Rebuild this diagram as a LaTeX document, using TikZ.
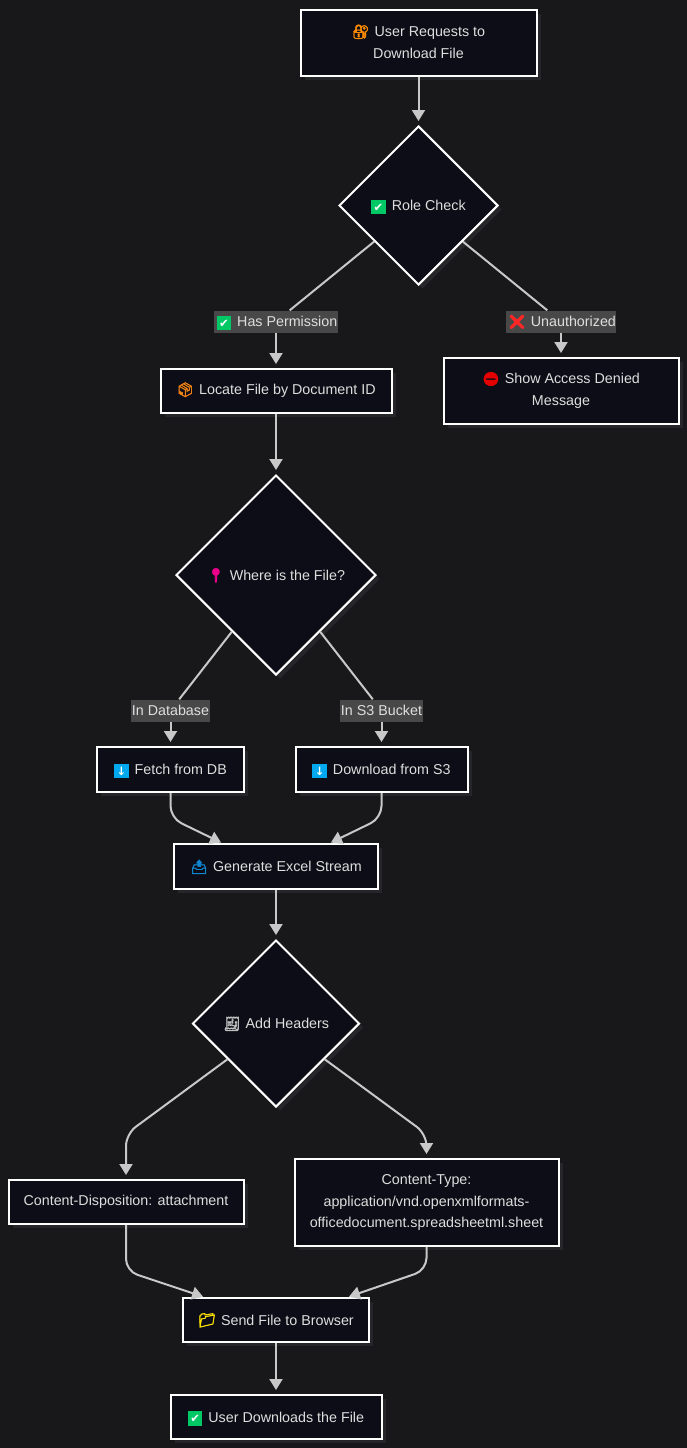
\documentclass[tikz,border=0pt]{standalone}
\usepackage{xcolor}
\usepackage{fontspec}
\setmainfont{Liberation Sans}
\newfontfamily\emojifont[FakeBold=3]{Noto Emoji}
\newfontfamily\symbolfont{DejaVu Sans}
\usetikzlibrary{shapes.geometric,arrows.meta,shadows}

\definecolor{pagebg}{HTML}{18181B}
\definecolor{nodebg}{HTML}{0C0D16}
\definecolor{labelbg}{HTML}{484848}
\definecolor{linkgrey}{HTML}{C8C8C8}
\definecolor{textgrey}{HTML}{DEDEDE}
\definecolor{shadowgrey}{HTML}{26262A}
\definecolor{checkgreen}{HTML}{00C864}
\definecolor{arrowblue}{HTML}{00A8F0}

% icons in front of the texts
\newcommand{\iconbox}[2]{{\setlength{\fboxsep}{0.5pt}\raisebox{-2pt}[0pt][0pt]{\colorbox{#1}{\makebox[13.5pt]{\rule[-1pt]{0pt}{13.5pt}\raisebox{1.2pt}{\textcolor{white}{\symbolfont\fontsize{11.5}{11.5}\selectfont #2}}}}}\hspace{6pt}}}
\newcommand{\iconglyph}[2]{{\raisebox{0pt}[0pt][0pt]{\textcolor{#1}{\emojifont\fontsize{14}{14}\selectfont #2}}\hspace{5pt}}}
\newcommand{\iconcheck}{\iconbox{checkgreen}{✔}}
\newcommand{\icondown}{\iconbox{arrowblue}{\bfseries ↓}}

\tikzset{
    flowbox/.style={rectangle, draw=white, line width=2pt, fill=nodebg, text=textgrey, align=center,
        inner sep=0pt, font=\fontsize{14.3}{21.5}\selectfont,
        drop shadow={shadow xshift=4pt, shadow yshift=-4pt, fill=shadowgrey, opacity=1}},
    decision/.style={flowbox, diamond, aspect=1},
    branchlabel/.style={rectangle, fill=labelbg, text=textgrey, inner xsep=0.5pt, inner ysep=0pt,
        minimum height=22pt, font=\fontsize{14.3}{21.5}\selectfont},
    plainlink/.style={draw=linkgrey, line width=2pt},
    arrowlink/.style={plainlink, -{Triangle[width=13pt,length=11pt]}, shorten >=4pt},
    bentlink/.style={arrowlink, rounded corners=12pt}
}

\begin{document}
\begin{tikzpicture}
    \fill[pagebg] (0,0) rectangle (687pt,-1448pt);
    \useasboundingbox (0,0) rectangle (687pt,-1448pt);

    % Request and role check
    \node (request) [flowbox, minimum width=236pt, minimum height=66pt] at (418.5pt,-42.5pt)
        {\iconglyph{orange!90!yellow}{🔐}User Requests to\\Download File};
    \node (role) [decision, minimum width=159pt, minimum height=159pt, below of=request, node distance=163pt]
        {\iconcheck Role Check};

    % Branches of the role check
    \node (permission) [branchlabel, below of=role, node distance=116pt, xshift=-142.5pt]
        {\hspace{2pt}\iconcheck Has Permission};
    \node (unauthorized) [branchlabel, below of=role, node distance=116pt, xshift=142.5pt]
        {\hspace{2pt}\iconglyph{red!80!pink}{❌}Unauthorized};
    \node (locate) [flowbox, minimum width=231pt, minimum height=44pt, below of=permission, node distance=69.5pt]
        {\iconglyph{orange!70!brown}{📦}Locate File by Document ID};
    \node (denied) [flowbox, minimum width=235pt, minimum height=66pt, below of=unauthorized, node distance=69.5pt]
        {\iconglyph{red!90!black}{⛔}Show Access Denied\\Message};

    % Where the file lives
    \node (where) [decision, minimum width=200pt, minimum height=200pt, below of=locate, node distance=184pt]
        {\iconglyph{magenta}{📍}Where is the File?};
    \node (indatabase) [branchlabel, below of=where, node distance=135.5pt, xshift=-105.5pt] {In Database};
    \node (inbucket) [branchlabel, below of=where, node distance=135.5pt, xshift=105.5pt] {In S3 Bucket};
    \node (fetch) [flowbox, minimum width=147pt, minimum height=45pt, below of=indatabase, node distance=59pt]
        {\icondown Fetch from DB};
    \node (download) [flowbox, minimum width=172pt, minimum height=45pt, below of=inbucket, node distance=59pt]
        {\icondown Download from S3};
    \node (generate) [flowbox, minimum width=204pt, minimum height=45pt, below of=where, node distance=291.5pt]
        {\iconglyph{cyan!70!blue}{📤}Generate Excel Stream};

    % Headers
    \node (headers) [decision, minimum width=167pt, minimum height=167pt, below of=generate, node distance=157pt]
        {\iconglyph{lightgray}{🧾}Add Headers};
    \node (disposition) [flowbox, minimum width=235pt, minimum height=44pt, below of=headers, node distance=178.5pt, xshift=-150pt]
        {Content-Disposition: attachment};
    \node (contenttype) [flowbox, minimum width=264pt, minimum height=87pt, below of=headers, node distance=179pt, xshift=150.5pt]
        {Content-Type:\\application/vnd.openxmlformats-\\officedocument.spreadsheetml.sheet};

    % Delivery
    \node (send) [flowbox, minimum width=186pt, minimum height=44pt, below of=headers, node distance=296.5pt]
        {\iconglyph{yellow!85!orange}{📁}Send File to Browser};
    \node (finished) [flowbox, minimum width=211pt, minimum height=44pt, below of=send, node distance=97pt]
        {\iconcheck User Downloads the File};

    % Links
    \draw[arrowlink] (request) -- (role);
    \draw[plainlink] (role) -- (permission);
    \draw[plainlink] (role) -- (unauthorized);
    \draw[arrowlink] (permission) -- (locate);
    \draw[arrowlink] (unauthorized) -- (denied);
    \draw[arrowlink] (locate) -- (where);
    \draw[plainlink] (where) -- (indatabase);
    \draw[plainlink] (where) -- (inbucket);
    \draw[arrowlink] (indatabase) -- (fetch);
    \draw[arrowlink] (inbucket) -- (download);
    \draw[bentlink, shorten >=1pt] (fetch.south) -- ([yshift=-25pt]fetch.south) -- ([xshift=-54pt]generate.north);
    \draw[bentlink, shorten >=1pt] (download.south) -- ([yshift=-25pt]download.south) -- ([xshift=54pt]generate.north);
    \draw[arrowlink] (generate) -- (headers);
    \draw[bentlink] (headers) -- ([yshift=45pt]disposition.north) -- (disposition);
    \draw[bentlink] (headers) -- ([yshift=24pt]contenttype.north) -- (contenttype);
    \draw[bentlink, shorten >=1pt] (disposition.south) -- ([yshift=-46pt]disposition.south) -- ([xshift=-72pt]send.north);
    \draw[bentlink, shorten >=1pt] (contenttype.south) -- ([yshift=-23pt]contenttype.south) -- ([xshift=72pt]send.north);
    \draw[arrowlink] (send) -- (finished);
\end{tikzpicture}
\end{document}
